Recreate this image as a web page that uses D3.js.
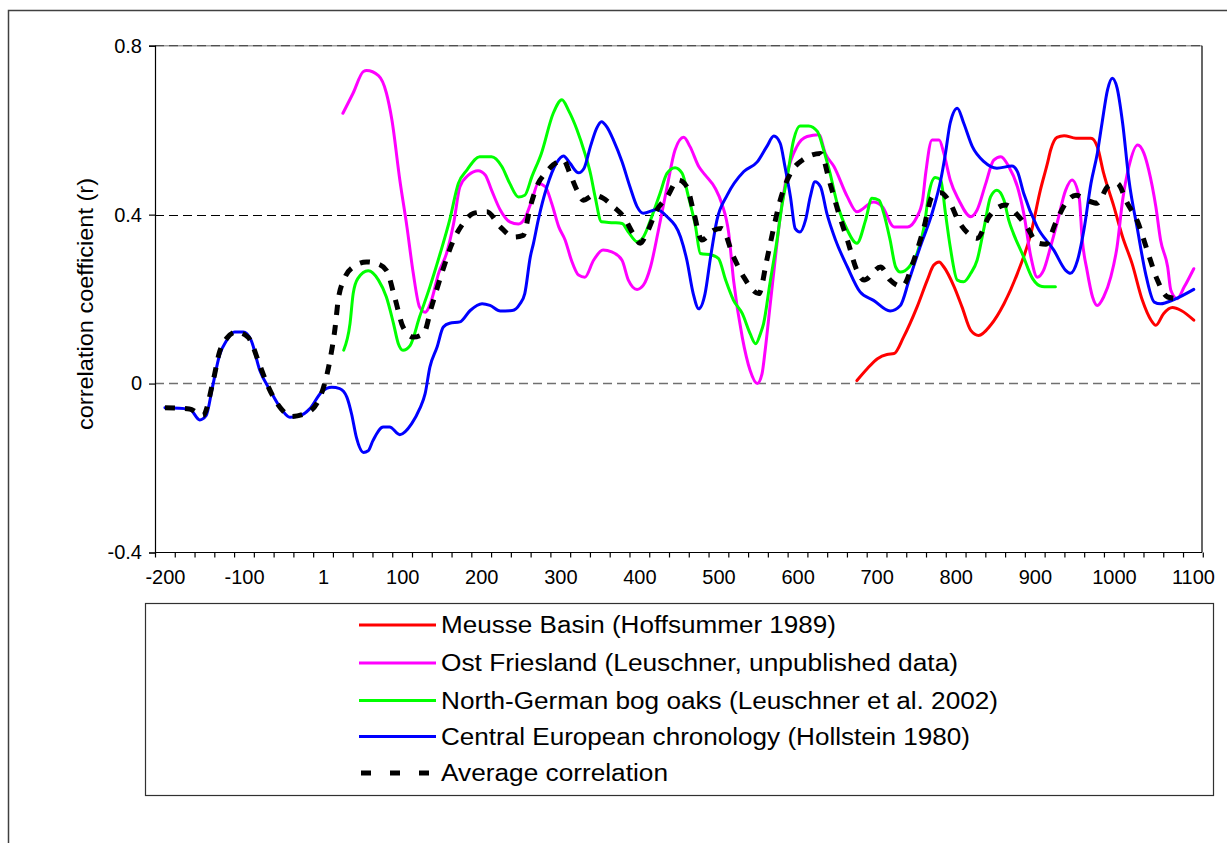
<!DOCTYPE html>
<html><head><meta charset="utf-8">
<script src="https://cdn.jsdelivr.net/npm/d3@7"></script>
<style>
html,body{margin:0;padding:0;background:#fff;}
svg{display:block;font-family:"Liberation Sans", Arial, sans-serif;}
</style>
</head><body>
<svg id="chart" width="1227" height="843"></svg>
<script>
// ---------- DATA ----------
const seriesNames = [
  "Meusse Basin (Hoffsummer 1989)",
  "Ost Friesland (Leuschner, unpublished data)",
  "North-German bog oaks (Leuschner et al. 2002)",
  "Central European chronology (Hollstein 1980)",
  "Average correlation"
];
const seriesColors = ["#ff0000", "#ff00ff", "#00ff00", "#0000ff", "#000000"];

const meusseYears  = [675,688,701,713,722,734,751,764,772,779,785,798,808,819,829,844,861,878,895,907,916,920,928,937,952,971,979,987,1000,1011,1023,1036,1047,1053,1063,1074,1085,1101];
const meusseValues = [0.007,0.035,0.059,0.069,0.071,0.110,0.181,0.245,0.280,0.288,0.276,0.229,0.181,0.126,0.114,0.138,0.189,0.261,0.355,0.458,0.522,0.553,0.583,0.587,0.581,0.581,0.561,0.498,0.419,0.347,0.284,0.197,0.150,0.138,0.166,0.180,0.173,0.150];

const ostYears  = [25,38,51,55,70,80,87,97,106,114,122,129,137,146,156,165,173,184,196,205,213,224,236,247,255,264,272,281,289,298,306,314,323,331,342,354,365,378,386,397,405,414,424,435,445,456,464,475,483,496,504,513,519,530,540,549,555,559,565,572,578,587,599,612,627,635,646,663,675,696,707,722,739,751,758,762,770,779,785,793,804,819,827,838,848,857,867,878,886,895,903,911,920,928,939,947,956,960,966,973,979,987,996,1004,1011,1019,1030,1038,1044,1053,1059,1068,1072,1080,1089,1101];
const ostValues = [0.640,0.688,0.739,0.741,0.729,0.688,0.624,0.482,0.371,0.261,0.181,0.169,0.197,0.261,0.308,0.379,0.466,0.494,0.504,0.494,0.458,0.411,0.383,0.378,0.391,0.434,0.474,0.466,0.427,0.371,0.340,0.292,0.257,0.252,0.292,0.316,0.312,0.292,0.245,0.223,0.233,0.276,0.363,0.466,0.553,0.583,0.561,0.514,0.494,0.462,0.427,0.355,0.245,0.110,0.031,0.000,0.023,0.079,0.181,0.300,0.395,0.498,0.561,0.585,0.589,0.545,0.514,0.442,0.407,0.430,0.419,0.371,0.371,0.395,0.434,0.498,0.577,0.577,0.545,0.482,0.434,0.395,0.411,0.474,0.529,0.537,0.514,0.466,0.403,0.300,0.252,0.268,0.324,0.379,0.458,0.482,0.442,0.340,0.268,0.205,0.185,0.205,0.252,0.324,0.434,0.514,0.565,0.545,0.506,0.419,0.340,0.276,0.221,0.201,0.229,0.272];

const bogYears  = [26,34,38,44,57,70,80,89,95,101,110,122,135,148,160,171,182,198,213,226,236,247,255,264,276,291,302,310,321,331,338,344,352,367,378,386,397,405,414,426,435,445,454,462,471,477,492,500,509,519,530,540,547,553,557,565,574,580,587,595,603,614,625,633,641,650,663,675,686,694,703,709,717,724,730,741,751,760,766,774,781,787,793,802,810,819,827,836,844,852,861,867,873,884,897,909,926];
const bogValues = [0.079,0.142,0.213,0.249,0.267,0.245,0.205,0.142,0.095,0.079,0.090,0.158,0.229,0.308,0.387,0.474,0.506,0.537,0.537,0.514,0.474,0.442,0.446,0.490,0.545,0.640,0.672,0.648,0.601,0.545,0.498,0.442,0.383,0.381,0.379,0.359,0.336,0.347,0.387,0.450,0.498,0.511,0.498,0.442,0.371,0.308,0.304,0.296,0.245,0.197,0.166,0.118,0.094,0.118,0.142,0.237,0.340,0.419,0.490,0.577,0.610,0.610,0.597,0.553,0.498,0.427,0.363,0.332,0.387,0.439,0.434,0.403,0.340,0.276,0.264,0.276,0.308,0.371,0.450,0.488,0.482,0.403,0.324,0.245,0.241,0.261,0.292,0.371,0.442,0.458,0.434,0.387,0.355,0.308,0.249,0.230,0.229];

const centralYears  = [-200,-169,-156,-148,-140,-131,-122,-112,-101,-91,-80,-67,-53,-42,-29,-17,-2,11,21,30,36,42,51,57,63,76,84,97,112,122,129,135,144,152,160,173,186,201,211,224,239,249,255,262,266,272,283,295,304,312,323,330,338,346,352,359,367,378,388,397,405,422,435,452,460,468,475,483,490,498,511,532,549,561,570,578,584,591,597,603,610,616,622,629,637,648,663,679,696,717,730,741,755,770,781,787,793,802,810,821,836,852,871,878,886,903,924,939,945,954,962,971,979,985,992,998,1004,1011,1019,1030,1040,1051,1059,1076,1101];
const centralValues = [-0.057,-0.060,-0.086,-0.076,-0.009,0.067,0.102,0.122,0.122,0.102,0.031,-0.016,-0.060,-0.080,-0.076,-0.060,-0.020,-0.009,-0.012,-0.032,-0.072,-0.127,-0.163,-0.159,-0.135,-0.103,-0.103,-0.121,-0.095,-0.060,-0.024,0.039,0.086,0.134,0.143,0.146,0.173,0.189,0.185,0.172,0.173,0.189,0.213,0.300,0.332,0.387,0.466,0.522,0.539,0.522,0.499,0.510,0.561,0.605,0.620,0.607,0.577,0.525,0.466,0.419,0.403,0.412,0.395,0.347,0.292,0.213,0.177,0.213,0.300,0.387,0.446,0.502,0.525,0.561,0.586,0.569,0.514,0.442,0.367,0.359,0.387,0.442,0.478,0.466,0.403,0.340,0.276,0.217,0.197,0.172,0.185,0.245,0.324,0.403,0.482,0.545,0.617,0.652,0.617,0.561,0.525,0.510,0.515,0.502,0.450,0.371,0.316,0.268,0.261,0.292,0.363,0.474,0.545,0.617,0.696,0.723,0.700,0.617,0.482,0.363,0.261,0.193,0.189,0.199,0.223];

const averageYears  = [-200,-169,-152,-139,-131,-122,-110,-95,-80,-70,-53,-40,-19,0,9,15,19,27,38,55,68,80,91,101,114,127,137,150,165,177,190,207,224,241,253,262,272,281,291,304,312,321,329,342,354,367,380,392,401,409,422,435,449,460,468,479,494,504,519,532,551,561,570,578,591,606,629,641,652,663,675,684,705,717,732,747,760,770,781,793,804,816,827,842,852,863,878,890,903,914,926,939,952,966,979,992,1004,1017,1030,1042,1055,1068,1082];
const averageValues = [-0.057,-0.060,-0.076,0.007,0.075,0.107,0.122,0.110,0.043,-0.005,-0.060,-0.078,-0.068,-0.012,0.059,0.130,0.197,0.249,0.276,0.288,0.284,0.268,0.201,0.134,0.110,0.118,0.181,0.261,0.340,0.379,0.403,0.407,0.371,0.347,0.351,0.419,0.474,0.498,0.518,0.529,0.498,0.458,0.434,0.446,0.439,0.419,0.395,0.355,0.332,0.355,0.411,0.442,0.482,0.466,0.411,0.340,0.363,0.367,0.300,0.252,0.213,0.292,0.371,0.434,0.498,0.529,0.545,0.474,0.403,0.340,0.268,0.245,0.276,0.245,0.230,0.292,0.371,0.442,0.452,0.427,0.383,0.355,0.344,0.395,0.415,0.423,0.399,0.371,0.333,0.330,0.379,0.427,0.446,0.434,0.427,0.466,0.474,0.427,0.383,0.316,0.245,0.205,0.201];

const yTickValues = [-0.4, 0, 0.4, 0.8];
const yTickLabels = ["-0.4", "0", "0.4", "0.8"];
const xTickValues = [-200,-100,0,100,200,300,400,500,600,700,800,900,1000,1100];
const xTickLabels = ["-200","-100","1","100","200","300","400","500","600","700","800","900","1000","1100"];
const yAxisTitle = "correlation coefficient (r)";

// ---------- LAYOUT ----------
const svg = d3.select("#chart");
const plot = {left:155, right:1202, top:45.7, bottom:552.5};
const x = d3.scaleLinear().domain([-212.6, 1111.4]).range([plot.left, plot.right]);
const y = d3.scaleLinear().domain([-0.4, 0.8]).range([plot.bottom, plot.top]);

// outer chart border
svg.append("rect").attr("x",8.5).attr("y",10.5).attr("width",1400).attr("height",1000)
  .attr("fill","none").attr("stroke","#404040").attr("stroke-width",1.5);

// gridlines
const gridStyles = {
  "0.8": {stroke:"#909090", dash:null},
  "0.4": {stroke:"#000", dash:"9,5"},
  "0": {stroke:"#707070", dash:"9,5"}
};
svg.append("line").attr("x1",plot.left).attr("x2",plot.right).attr("y1",y(0.8)).attr("y2",y(0.8))
  .attr("stroke","#a0a0a0").attr("stroke-width",1.5);
svg.append("line").attr("x1",plot.left).attr("x2",plot.right).attr("y1",y(0.8)).attr("y2",y(0.8))
  .attr("stroke","#505050").attr("stroke-width",1.2).attr("stroke-dasharray","9,5");
svg.append("line").attr("x1",plot.left).attr("x2",plot.right).attr("y1",Math.round(y(0.4))+0.5).attr("y2",Math.round(y(0.4))+0.5)
  .attr("stroke","#000").attr("stroke-width",1).attr("stroke-dasharray","9,5");
svg.append("line").attr("x1",plot.left).attr("x2",plot.right).attr("y1",y(0)).attr("y2",y(0))
  .attr("stroke","#707070").attr("stroke-width",1.5).attr("stroke-dasharray","9,5");

// right border of plot
svg.append("line").attr("x1",plot.right).attr("x2",plot.right).attr("y1",plot.top).attr("y2",plot.bottom)
  .attr("stroke","#000").attr("stroke-width",1.2);

// axes
const yAxis = d3.axisLeft(y).tickValues(yTickValues).tickSize(6)
  .tickFormat((d,i)=>yTickLabels[i]);
const gy = svg.append("g").attr("transform",`translate(${plot.left},0)`).call(yAxis);
gy.select(".domain").attr("stroke","#000").attr("stroke-width",1.2);
gy.selectAll(".tick line").attr("stroke","#000").attr("stroke-width",1.2);
gy.selectAll(".tick text").attr("font-size",20).attr("fill","#000").attr("x",-13)
  .attr("font-family",'"Liberation Sans", Arial, sans-serif');

// x axis: minor tick marks every 25 years, labels every 100
const tickMarks = d3.range(0, 54).map(k => -212.6 + 25*k);
const xAxisTicks = d3.axisBottom(x).tickValues(tickMarks).tickSize(5).tickFormat("");
const gx = svg.append("g").attr("transform",`translate(0,${plot.bottom})`).call(xAxisTicks);
gx.select(".domain").attr("stroke","#000").attr("stroke-width",1.2).attr("d",`M${plot.left},0H${plot.right}`);
gx.selectAll(".tick line").attr("stroke","#000").attr("stroke-width",1.2);

const xLabelAxis = d3.axisBottom(x).tickValues(xTickValues).tickSize(0)
  .tickFormat((d,i)=>xTickLabels[i]);
const gxl = svg.append("g").attr("transform",`translate(0,${plot.bottom})`).call(xLabelAxis);
gxl.select(".domain").remove();
gxl.selectAll(".tick text").attr("font-size",20).attr("fill","#000").attr("y",17)
  .attr("font-family",'"Liberation Sans", Arial, sans-serif');

// y axis title
svg.append("text").attr("transform","translate(93,304) rotate(-90)")
  .attr("text-anchor","middle").attr("font-size",22).attr("fill","#000")
  .attr("textLength",252).attr("lengthAdjust","spacingAndGlyphs")
  .text(yAxisTitle);

// ---------- SERIES ----------
const seriesData = [
  {years: meusseYears, values: meusseValues},
  {years: ostYears, values: ostValues},
  {years: bogYears, values: bogValues},
  {years: centralYears, values: centralValues},
  {years: averageYears, values: averageValues}
];
const line = d3.line().x(d=>x(d[0])).y(d=>y(d[1])).curve(d3.curveMonotoneX);
const gSeries = svg.append("g");
seriesData.forEach((s,i)=>{
  const pts = s.years.map((yr,j)=>[yr, s.values[j]]);
  const p = gSeries.append("path").datum(pts).attr("d",line)
    .attr("fill","none").attr("stroke",seriesColors[i])
    .attr("stroke-linejoin","round");
  if (i === 4) {
    p.attr("stroke-width",5).attr("stroke-dasharray","10,10");
  } else {
    p.attr("stroke-width",3).attr("stroke-linecap","round");
  }
});

// ---------- LEGEND ----------
const legend = svg.append("g");
legend.append("rect").attr("x",145.5).attr("y",603.5).attr("width",1068).attr("height",192)
  .attr("fill","#fff").attr("stroke","#303030").attr("stroke-width",1.2);
const legendRowY = [625, 663, 700.5, 736.5, 773];
const legendTextWidths = [395, 517, 557, 529, 227];
seriesNames.forEach((name,i)=>{
  const ly = legendRowY[i];
  const l = legend.append("line").attr("x1",359).attr("x2",436).attr("y1",ly).attr("y2",ly)
    .attr("stroke",seriesColors[i]);
  if (i === 4) l.attr("stroke-width",5).attr("stroke-dasharray","10,19").attr("x1",361);
  else l.attr("stroke-width",3);
  legend.append("text").attr("x",441).attr("y",ly+8).attr("font-size",23).attr("fill","#000")
    .attr("textLength",legendTextWidths[i]).attr("lengthAdjust","spacingAndGlyphs")
    .text(name);
});
</script>
</body></html>
